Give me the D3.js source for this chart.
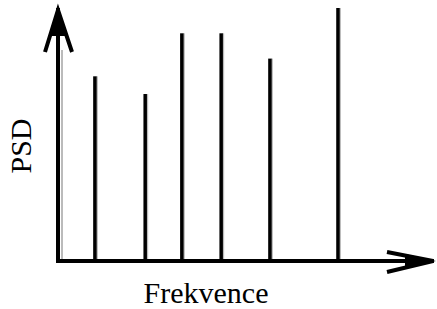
<!DOCTYPE html>
<meta charset='utf-8'>
<style>
	body { margin: 0; background: #fff; }
	.stem { stroke: #000; stroke-width: 3.5px; }
	.stem-shadow { stroke: #bbb; stroke-width: 2px; }
	.axis-line { stroke: #000; stroke-width: 4px; fill: none; }
</style>
<div class="chart"></div>
<script src="https://d3js.org/d3.v7.min.js"></script>
<script>
	var width = 437, height = 309;

	// stem positions (arbitrary frequency units) and PSD heights (relative)
	var freqs = [0.95, 2.28, 3.25, 4.29, 5.58, 7.38];
	var psd = [0.73, 0.66, 0.90, 0.90, 0.80, 1.0];
	var xLabel = "Frekvence", yLabel = "PSD";

	var svg = d3.select(".chart")
				.append("svg")
				.attr("width", width)
				.attr("height", height);

	var x = d3.scaleLinear().domain([0, 10]).range([59, 437]);
	var y = d3.scaleLinear().domain([0, 1]).range([261, 8]);

	// shadows first, then the black stems
	svg.append("g").selectAll("line")
		.data(freqs)
		.enter()
		.append("line")
		.attr("class", "stem-shadow")
		.attr("x1", function(d) { return x(d) + 2; })
		.attr("x2", function(d) { return x(d) + 2; })
		.attr("y1", y(0))
		.attr("y2", function(d, i) { return y(psd[i]); });

	svg.append("g").selectAll("line")
		.data(freqs)
		.enter()
		.append("line")
		.attr("class", "stem")
		.attr("x1", function(d) { return x(d); })
		.attr("x2", function(d) { return x(d); })
		.attr("y1", y(0))
		.attr("y2", function(d, i) { return y(psd[i]); });

	// y axis with arrow
	var x0 = x(0), y0 = y(0);
	svg.append("line").attr("class", "stem-shadow")
		.attr("x1", x0 + 3).attr("x2", x0 + 3).attr("y1", y0).attr("y2", 50);
	svg.append("line").attr("class", "axis-line")
		.attr("x1", x0 - 1).attr("x2", x0 - 1).attr("y1", y0 + 2).attr("y2", y(1));
	svg.append("path").attr("class", "axis-line")
		.attr("d", "M" + (x0 - 14) + "," + 52 + "L" + (x0 - 1) + "," + (y(1) + 2) + "L" + (x0 + 13) + "," + 52);
	svg.append("path").attr("fill", "#000")
		.attr("d", "M" + (x0 - 1) + "," + y(1) + "L" + (x0 - 9) + ",36L" + (x0 + 7) + ",36Z");

	// x axis with arrow
	svg.append("line").attr("class", "axis-line")
		.attr("x1", x0 - 3).attr("x2", 434).attr("y1", y0).attr("y2", y0);
	svg.append("path").attr("class", "axis-line")
		.attr("d", "M387," + (y0 - 9) + "L433," + y0 + "L387," + (y0 + 11));
	svg.append("path").attr("fill", "#000")
		.attr("d", "M436," + y0 + "L405," + (y0 - 7) + "L405," + (y0 + 7) + "Z");

	// labels
	var serif = "'Liberation Serif', 'Times New Roman', 'DejaVu Serif', serif";
	svg.append("text")
		.attr("x", 206).attr("y", 303)
		.attr("text-anchor", "middle")
		.style("font-family", serif)
		.style("font-size", "30px")
		.text(xLabel);
	svg.append("text")
		.attr("transform", "translate(31,146) rotate(-90)")
		.attr("text-anchor", "middle")
		.style("font-family", serif)
		.style("font-size", "30px")
		.text(yLabel);
</script>
